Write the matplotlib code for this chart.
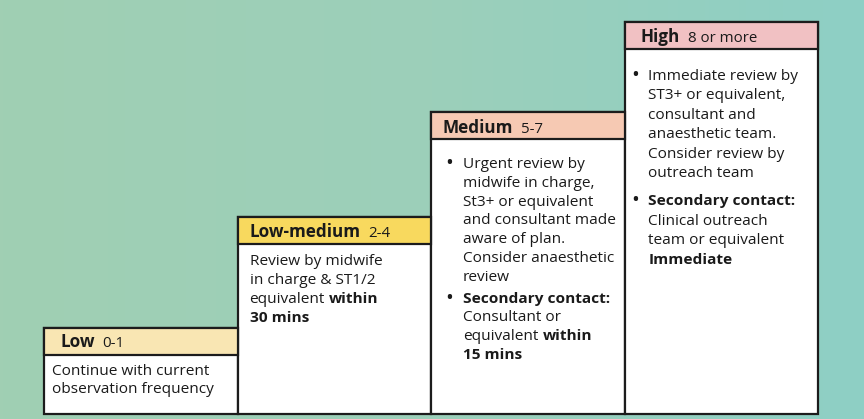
import numpy as np
import matplotlib
matplotlib.use("Agg")
import matplotlib.pyplot as plt
from matplotlib.colors import LinearSegmentedColormap

# escalation levels
levels = ["Low", "Low-medium", "Medium", "High"]
score_ranges = ["0-1", "2-4", "5-7", "8 or more"]
step_heights = [86, 197, 302, 392]      # height of each step, px
header_colors = ["#f9e6b3", "#f8d95e", "#f6c9b3", "#f1c1c3"]

# body text; each inner list is one bullet, **x** = bold
low_text = [["Continue with current", "observation frequency"]]
lowmed_text = [["Review by midwife", "in charge & ST1/2",
                "equivalent **within**", "**30 mins**"]]
medium_text = [["Urgent review by", "midwife in charge,", "St3+ or equivalent",
                "and consultant made", "aware of plan.", "Consider anaesthetic",
                "review"],
               ["**Secondary contact:**", "Consultant or",
                "equivalent **within**", "**15 mins**"]]
high_text = [["Immediate review by", "ST3+ or equivalent,", "consultant and",
              "anaesthetic team.", "Consider review by", "outreach team"],
             ["**Secondary contact:**", "Clinical outreach",
              "team or equivalent", "**Immediate**"]]
body_text = [low_text, lowmed_text, medium_text, high_text]
has_bullets = [False, False, True, True]

# layout per box (pixels)
header_h = 27
head_dx = [16, 12, 12, 16]
head_dy = [19, 20, 21, 20]
text_dx = [8, 12, 32, 24]
bullet_dx = [0, 0, 14, 7]
first_dy = [47, 48, 56, 58]
line_gap = [18, 19, 18.8, 19.4]
bullet_gap = [0, 0, 3, 9]

border = "#1c1c1c"
ink = "#1a1a1a"
font = "Open Sans"
body_size = 11.1
head_size = 12.3
range_size = 10.8

fig = plt.figure(figsize=(8.64, 4.19), dpi=100)

# background wash
bg = fig.add_axes([0, 0, 1, 1])
bg.axis("off")
cmap = LinearSegmentedColormap.from_list("wash", ["#a0cfb3", "#9ccfba", "#8ecfc5"])
grad = np.linspace(0, 1, 256).reshape(1, -1)
bg.imshow(grad, cmap=cmap, aspect="auto", extent=[0, 1, 0, 1])

ax = fig.add_axes([44 / 864, 5 / 419, 774 / 864, 392 / 419])
ax.set_xlim(0, 4)
ax.set_ylim(0, 392)
ax.axis("off")

x = np.arange(len(levels))
heights = np.array(step_heights)
ax.bar(x, heights, width=1, align="edge", color="white",
       edgecolor=border, linewidth=1.6, zorder=2, clip_on=False)
ax.bar(x, header_h, bottom=heights - header_h, width=1, align="edge",
       color=header_colors, edgecolor=border, linewidth=1.6, zorder=3, clip_on=False)

renderer = fig.canvas.get_renderer()


def put(i, dx, dy, s, bold=False, size=body_size):
    t = ax.annotate(s, xy=(i, step_heights[i]), xytext=(dx, -dy),
                    textcoords="offset pixels", ha="left", va="baseline",
                    fontsize=size, fontweight="bold" if bold else "normal",
                    family=font, color=ink, zorder=5, annotation_clip=False)
    return t.get_window_extent(renderer).width


def put_line(i, dx, dy, line):
    parts = line.split("**")
    for k, p in enumerate(parts):
        if not p.strip():
            continue
        w = put(i, dx, dy, p.strip(), bold=(k % 2 == 1))
        dx += w + 4


for i in range(len(levels)):
    w = put(i, head_dx[i], head_dy[i], levels[i], bold=True, size=head_size)
    put(i, head_dx[i] + w + 8, head_dy[i], score_ranges[i], size=range_size)

    dy = first_dy[i]
    for bullet in body_text[i]:
        if has_bullets[i]:
            put(i, bullet_dx[i], dy + 1, "\u2022", size=15)
        for line in bullet:
            put_line(i, text_dx[i], dy, line)
            dy += line_gap[i]
        dy += bullet_gap[i]

fig.savefig("out.png", dpi=100)
